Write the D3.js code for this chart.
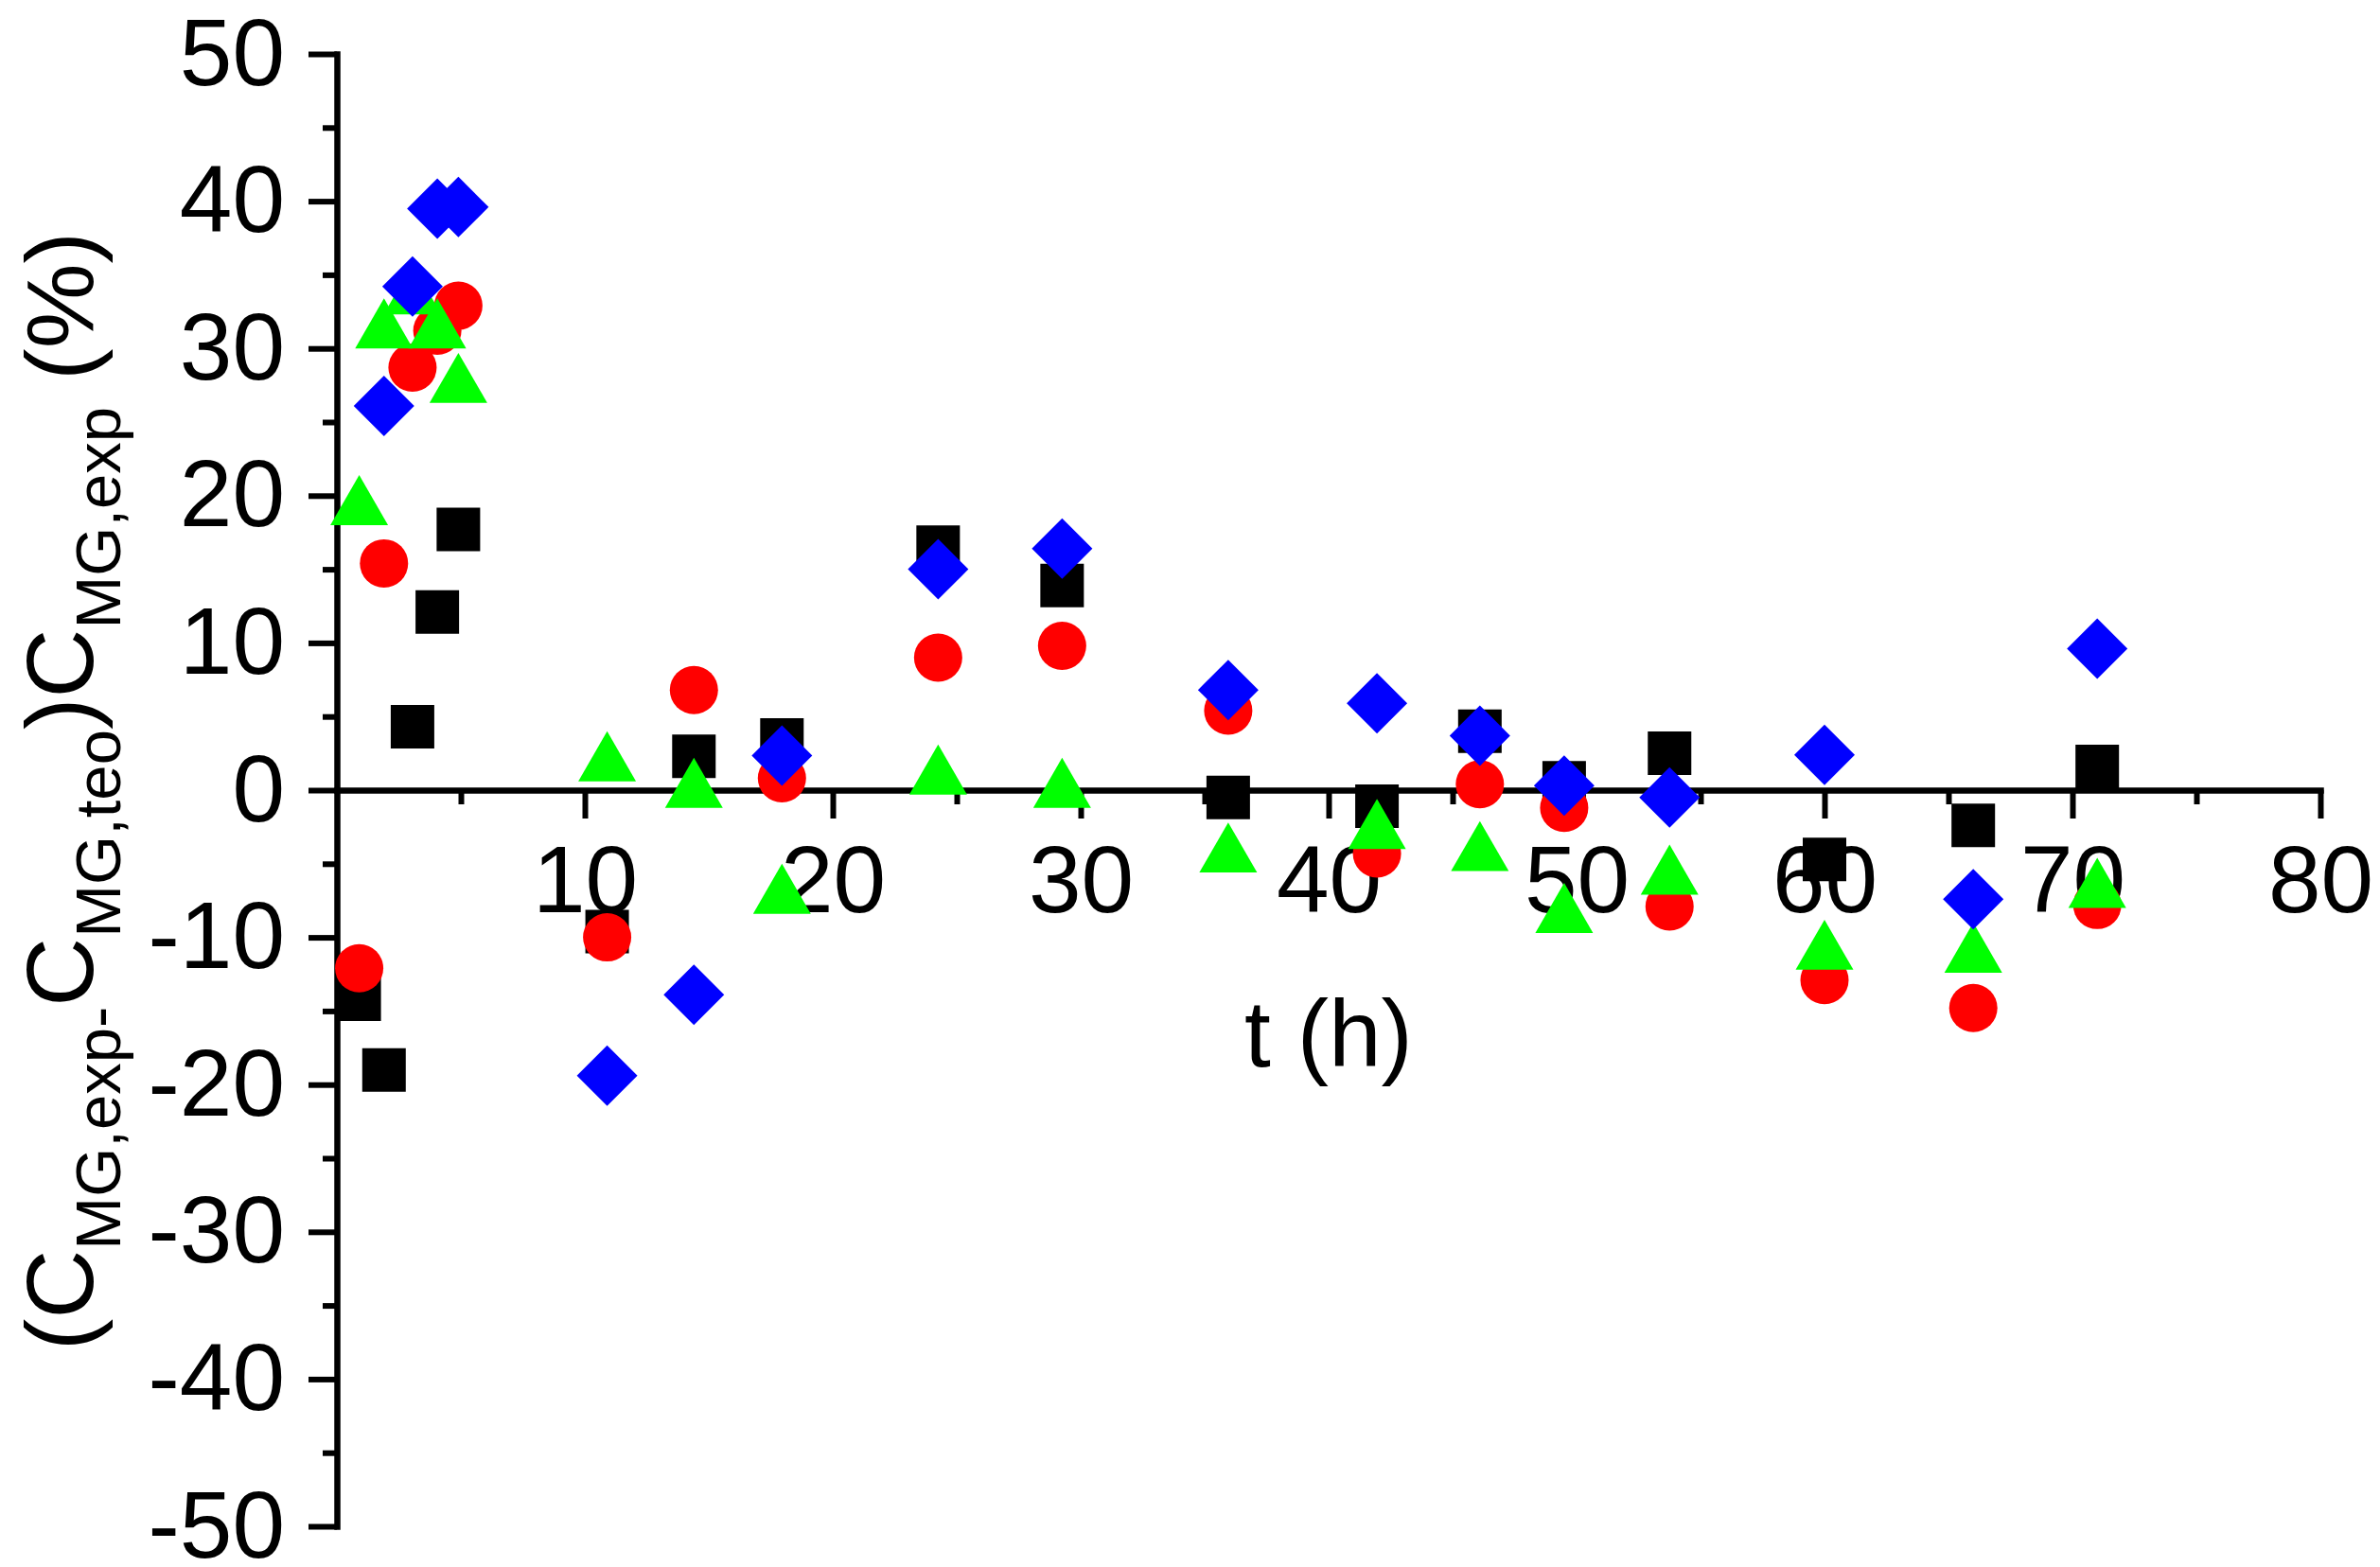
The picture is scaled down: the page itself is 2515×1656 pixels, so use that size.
<!DOCTYPE html>
<html>
<head>
<meta charset="utf-8">
<script src="https://cdn.jsdelivr.net/npm/d3@7"></script>
<style>
  html, body { margin: 0; padding: 0; background: #fff; }
  svg { display: block; }
  text { font-family: "Liberation Sans", Arial, sans-serif; fill: #000; }
</style>
</head>
<body>
<script>
// ---- data ----
const times    = [0.9, 1.9, 3.05, 4.05, 4.9, 10.9, 14.4, 17.95, 24.25, 29.25, 35.95, 41.95, 46.1, 49.5, 53.75, 60, 66, 71];
const blackSq  = [-14.2, -19.0, 4.3, 12.1, 17.7, -9.6, 2.3, 3.4, 16.5, 13.9, -0.5, -1.1, 4.0, 0.5, 2.5, -4.7, -2.4, 1.6];
const redCirc  = [-12.1, 15.4, 28.7, 31.2, 32.9, -10.0, 6.8, 0.8, 9.0, 9.8, 5.4, -4.3, 0.4, -1.2, -7.9, -12.9, -14.8, -7.8];
const greenTri = [19.7, 31.7, 34.0, 31.7, 28.0, 2.3, 0.5, -6.7, 1.4, 0.5, -3.9, -2.3, -3.8, -8.0, -5.4, -10.5, -10.7, -6.3];
const blueDia  = [null, 26.1, 34.2, 39.5, 39.6, -19.4, -13.9, 2.35, 15.0, 16.4, 6.8, 5.9, 3.7, 0.3, -0.5, 2.4, -7.4, 9.6];
const xTicks = [10, 20, 30, 40, 50, 60, 70, 80];
const xMinor = [5, 15, 25, 35, 45, 55, 65, 75];
const yTicks = [-50, -40, -30, -20, -10, 0, 10, 20, 30, 40, 50];
const yMinor = [-45, -35, -25, -15, -5, 5, 15, 25, 35, 45];

const W = 2515, H = 1656;
const svg = d3.select("body").append("svg").attr("width", W).attr("height", H);
svg.append("rect").attr("width", W).attr("height", H).attr("fill", "#fff");

const x = d3.scaleLinear().domain([0, 80]).range([356, 2452]);
const y = d3.scaleLinear().domain([-50, 50]).range([1613, 57]);

const FS = 100;

// custom symbol types (size = bounding width)
const sqType = { draw(ctx, s) { const h = s / 2; ctx.rect(-h, -h, s, s); } };
const diaType = { draw(ctx, s) { const h = s / 2; ctx.moveTo(0, -h); ctx.lineTo(h, 0); ctx.lineTo(0, h); ctx.lineTo(-h, 0); ctx.closePath(); } };
const triType = { draw(ctx, s) { const hh = s * Math.sqrt(3) / 2; ctx.moveTo(0, -hh / 2); ctx.lineTo(s / 2, hh / 2); ctx.lineTo(-s / 2, hh / 2); ctx.closePath(); } };
const circType = { draw(ctx, s) { const r = s / 2; ctx.moveTo(r, 0); ctx.arc(0, 0, r, 0, 2 * Math.PI); } };

const series = [
  { vals: blackSq,  type: sqType,   size: 46, color: "#000000" },
  { vals: redCirc,  type: circType, size: 51, color: "#FF0000" },
  { vals: greenTri, type: triType,  size: 61, color: "#00FF00" },
  { vals: blueDia,  type: diaType,  size: 64, color: "#0000FF" }
];

const fmt = d => String(d);

// axes
svg.append("g").attr("transform", `translate(${x(0)},0)`)
  .call(d3.axisLeft(y).tickValues(yTicks).tickSize(30).tickSizeOuter(0).tickPadding(25).tickFormat(fmt));
const yAxisMinor = svg.append("g").attr("transform", `translate(${x(0)},0)`)
  .call(d3.axisLeft(y).tickValues(yMinor).tickSize(15).tickSizeOuter(0).tickFormat(""));
yAxisMinor.select(".domain").remove();

svg.append("g").attr("transform", `translate(0,${y(0)})`)
  .call(d3.axisBottom(x).tickValues(xTicks).tickSize(30).tickSizeOuter(0).tickPadding(28).tickFormat(fmt));
const xAxisMinor = svg.append("g").attr("transform", `translate(0,${y(0)})`)
  .call(d3.axisBottom(x).tickValues(xMinor).tickSize(15).tickSizeOuter(0).tickFormat(""));
xAxisMinor.select(".domain").remove();

svg.selectAll(".domain").attr("stroke", "#000").attr("stroke-width", 6.5).attr("stroke-linecap", "square");
svg.selectAll(".tick line").attr("stroke", "#000").attr("stroke-width", 6);
svg.selectAll(".tick text").attr("font-size", FS).attr("font-family", "'Liberation Sans', Arial, sans-serif").attr("fill", "#000");

// markers (drawn after axes so they overlap the labels as in the reference)
series.forEach(s => {
  const pts = times.map((t, i) => ({ t, v: s.vals[i] })).filter(d => d.v !== null);
  svg.append("g").selectAll("path").data(pts).join("path")
    .attr("transform", d => `translate(${x(d.t)},${y(d.v)})`)
    .attr("d", d3.symbol().type(s.type).size(s.size))
    .attr("fill", s.color);
});

// x title
svg.append("text").attr("x", (x(0) + x(80)) / 2).attr("y", 1127)
  .attr("text-anchor", "middle").attr("font-size", FS).text("t (h)");

// y title
const yt = svg.append("text")
  .attr("transform", `translate(98,${(y(-50) + y(50)) / 2 + 1}) rotate(-90)`)
  .attr("text-anchor", "middle").attr("font-size", 101);
const SUB = 67, SH = 29;
yt.append("tspan").text("(C");
yt.append("tspan").attr("font-size", SUB).attr("dy", SH).text("MG,exp-");
yt.append("tspan").attr("dy", -SH).text("C");
yt.append("tspan").attr("font-size", SUB).attr("dy", SH).text("MG,teo");
yt.append("tspan").attr("dy", -SH).text(")C");
yt.append("tspan").attr("font-size", SUB).attr("dy", SH).text("MG,exp");
yt.append("tspan").attr("dy", -SH).text(" (%)");
</script>
</body>
</html>
